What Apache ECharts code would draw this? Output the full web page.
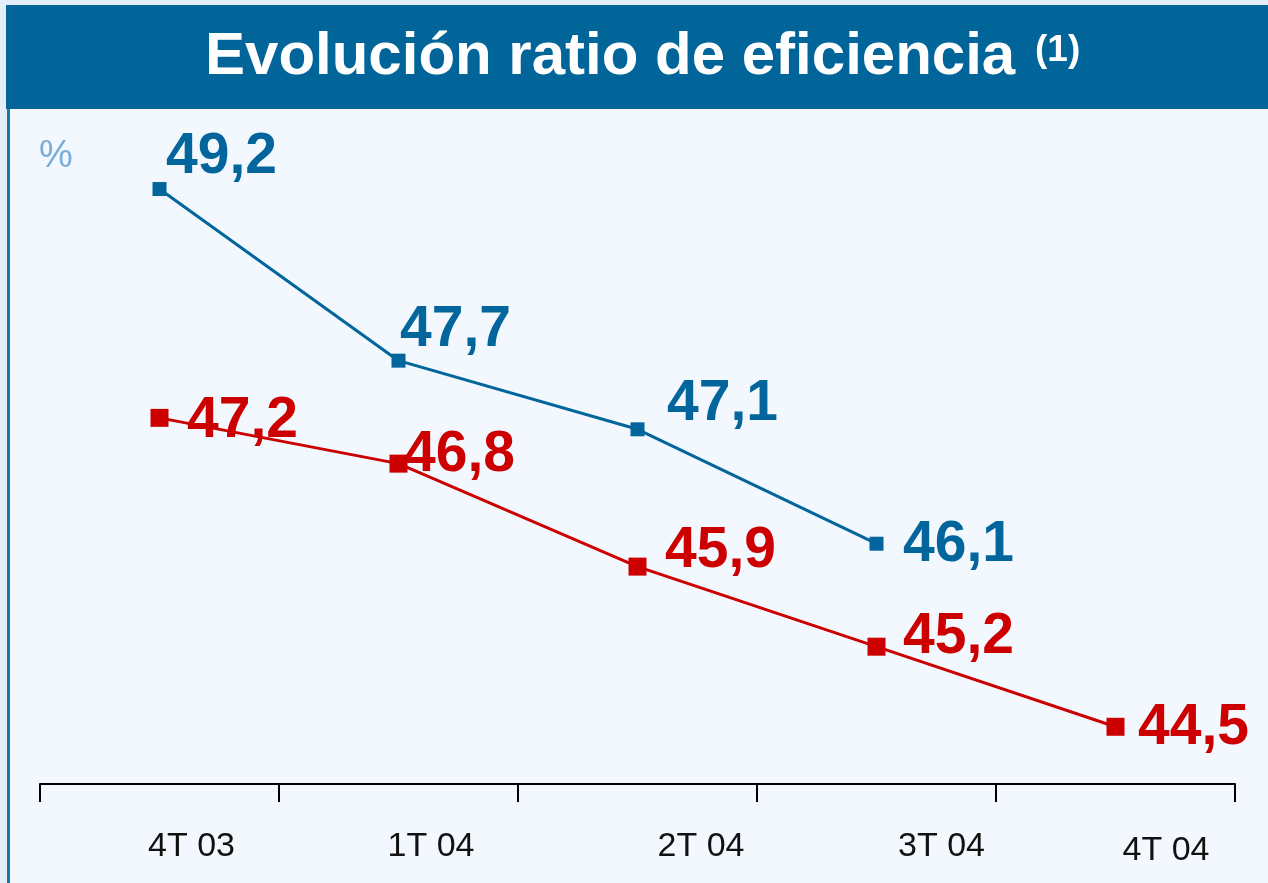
<!DOCTYPE html>
<html><head><meta charset="utf-8">
<script src="https://cdn.jsdelivr.net/npm/echarts@6/dist/echarts.min.js"></script>
<style>html,body{margin:0;padding:0;background:#f2f8fd}#c{width:1268px;height:883px}</style>
</head><body><div id="c"></div>
<script>
const categories = ['4T 03', '1T 04', '2T 04', '3T 04', '4T 04'];
const blueValues = [49.2, 47.7, 47.1, 46.1, null];
const redValues = [47.2, 46.8, 45.9, 45.2, 44.5];
const titleText = 'Evolución ratio de eficiencia';
const titleNote = '(1)';
const unitLabel = '%';

// label placement tweaks (pixels)
const blueLabelOffsets = [[-0.5, -32], [-5.5, -30], [22.5, -25], [19.5, 2], [0, 0]];
const redLabelOffsets = [[18.5, 3], [-3.5, -8.5], [18.5, -15], [17.5, -9], [13.5, 1]];
const catLabelPad = [[0, 64], [0, 65], [0, 127], [0, 130], [8, 101]];

const FONT = '"Liberation Sans", Arial, Helvetica, sans-serif';
const BLUE = '#02659c';
const RED = '#cc0000';

const fmt = v => v.toFixed(1).replace('.', ',');

function buildData(values, offsets) {
  return values.map((v, i) => v == null ? null : ({
    value: v,
    label: { offset: offsets[i] }
  }));
}

const rich = {};
catLabelPad.forEach((p, i) => {
  rich['c' + i] = {
    fontFamily: FONT, fontSize: 34, color: '#111', lineHeight: 34,
    padding: [p[0], 0, 0, p[1]]
  };
});

const chart = echarts.init(document.getElementById('c'), null, { renderer: 'canvas' });
chart.setOption({
  backgroundColor: '#f2f8fd',
  animation: false,
  grid: { left: 40, right: 33, top: 97.5, bottom: 99, containLabel: false },
  xAxis: {
    type: 'category',
    data: categories,
    boundaryGap: true,
    axisLine: { show: true, lineStyle: { color: '#000', width: 2 } },
    axisTick: { show: true, length: 18, lineStyle: { color: '#000', width: 2 } },
    axisLabel: {
      margin: 46,
      formatter: (val, idx) => '{c' + idx + '|' + val + '}',
      rich: rich
    },
    splitLine: { show: false }
  },
  yAxis: {
    type: 'value', min: 44, max: 50, interval: 1,
    show: false
  },
  graphic: [
    { type: 'rect', shape: { x: 0, y: 0, width: 1268, height: 5 }, style: { fill: '#e2eff9' }, silent: true },
    { type: 'rect', shape: { x: 0, y: 0, width: 7, height: 883 }, style: { fill: '#e2eff9' }, silent: true },
    { type: 'rect', shape: { x: 7, y: 106, width: 3, height: 777 }, style: { fill: '#1f74b0' }, silent: true },
    { type: 'rect', shape: { x: 6, y: 5, width: 1262, height: 104 }, style: { fill: '#01659a' }, silent: true },
    { type: 'text', style: { x: 205, y: 57, text: titleText, fill: '#ffffff', font: 'bold 60px ' + FONT, align: 'left', verticalAlign: 'middle' }, silent: true },
    { type: 'text', style: { x: 1035, y: 51, text: titleNote, fill: '#ffffff', font: 'bold 37px ' + FONT, align: 'left', verticalAlign: 'middle' }, silent: true },
    { type: 'text', style: { x: 39, y: 157, text: unitLabel, fill: '#78aed8', font: '38px ' + FONT, align: 'left', verticalAlign: 'middle' }, silent: true }
  ],
  series: [
    {
      type: 'line', name: 'blue',
      data: buildData(blueValues, blueLabelOffsets),
      symbol: 'rect', symbolSize: 14, showAllSymbol: true,
      lineStyle: { color: BLUE, width: 3 },
      itemStyle: { color: BLUE },
      connectNulls: false,
      label: {
        show: true, position: 'right', distance: 0,
        color: BLUE, fontFamily: FONT, fontWeight: 'bold', fontSize: 57,
        formatter: p => fmt(p.value)
      },
      z: 2
    },
    {
      type: 'line', name: 'red',
      data: buildData(redValues, redLabelOffsets),
      symbol: 'rect', symbolSize: 18, showAllSymbol: true,
      lineStyle: { color: RED, width: 3 },
      itemStyle: { color: RED },
      label: {
        show: true, position: 'right', distance: 0,
        color: RED, fontFamily: FONT, fontWeight: 'bold', fontSize: 57,
        formatter: p => fmt(p.value)
      },
      z: 3
    }
  ]
});
</script></body></html>
